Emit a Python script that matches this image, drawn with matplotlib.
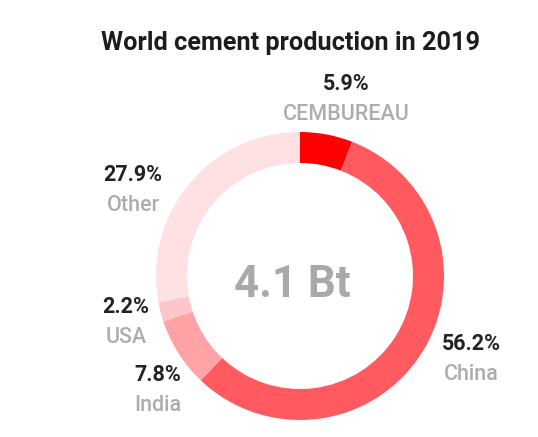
import matplotlib
matplotlib.use("Agg")
import matplotlib.pyplot as plt

# World cement production shares, 2019 (clockwise from 12 o'clock)
regions = ["CEMBUREAU", "China", "India", "USA", "Other"]
shares = [5.9, 56.2, 7.8, 2.2, 27.9]
colors = ["#ff0000", "#ff5a5f", "#ffa3a7", "#ffc6c9", "#ffe1e3"]
total_label = "4.1 Bt"
title = "World cement production in 2019"

# label anchors in pixel space: (centre x, baseline y from top)
label_pos = {
    "CEMBUREAU": (346, 90),
    "China": (471, 350),
    "India": (158, 381),
    "USA": (126, 313),
    "Other": (133, 181),
}

W, H = 538, 437
fig = plt.figure(figsize=(W / 100, H / 100), dpi=100)
ax = fig.add_axes([0, 0, 1, 1])
ax.set_aspect("equal")
ax.axis("off")

cx, cy, R = 300, H - 276, 144
ax.pie(shares, colors=colors, startangle=90, counterclock=False,
       center=(cx, cy), radius=R,
       wedgeprops=dict(width=31, linewidth=0))
ax.set_xlim(0, W)
ax.set_ylim(0, H)

font = "Roboto"
ax.text(290.5, H - 50, title, ha="center", va="baseline", fontsize=18.2,
        fontweight="bold", color="#1c1c1c", family=font)
ax.text(292, H - 297, total_label, ha="center", va="baseline", fontsize=31.5,
        fontweight="bold", color="#a9a9a9", family=font)

for name, val in zip(regions, shares):
    x, y = label_pos[name]
    ax.text(x, H - y, f"{val:.1f}%", ha="center", va="baseline", fontsize=15.5,
            fontweight="bold", color="#222222", family=font)
    ax.text(x, H - y - 30, name, ha="center", va="baseline", fontsize=15.5,
            fontweight="medium", color="#adadad", family=font)

fig.savefig("out.png", dpi=100, facecolor="white")
